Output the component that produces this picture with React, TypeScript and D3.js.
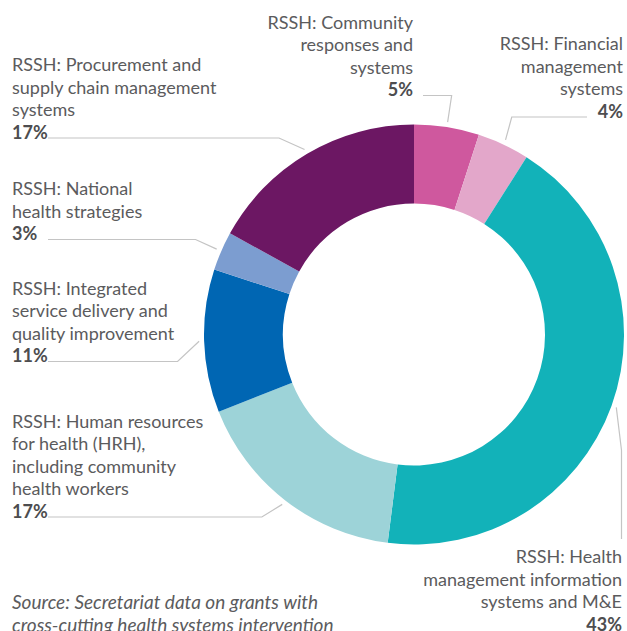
import React from "react";
import * as d3 from "d3";

const categories = [
  "RSSH: Community responses and systems",
  "RSSH: Financial management systems",
  "RSSH: Health management information systems and M&E",
  "RSSH: Human resources for health (HRH), including community health workers",
  "RSSH: Integrated service delivery and quality improvement",
  "RSSH: National health strategies",
  "RSSH: Procurement and supply chain management systems",
];
const values = [5, 4, 43, 17, 11, 3, 17];
const labelLines = [
  ["RSSH: Community", "responses and", "systems"],
  ["RSSH: Financial", "management", "systems"],
  ["RSSH: Health", "management information", "systems and M&E"],
  ["RSSH: Human resources", "for health (HRH),", "including community", "health workers"],
  ["RSSH: Integrated", "service delivery and", "quality improvement"],
  ["RSSH: National", "health strategies"],
  ["RSSH: Procurement and", "supply chain management", "systems"],
];
const colors = ["#cf589e", "#e3a7ca", "#12b2b9", "#9dd3d8", "#0066b3", "#7c9dd0", "#6c1763"];
const sourceLines = [
  "Source: Secretariat data on grants with",
  "cross-cutting health systems intervention",
];

// layout (positions only)
const W = 627, H = 631;
const CX = 414, CY = 334.5, R_OUT = 210, R_IN = 131;
const LH = 22.5;
type LabelLayout = { x: number; y: number; anchor: "start" | "end"; elbow: "h" | "v"; lineStart: number };
const layout: LabelLayout[] = [
  { x: 413, y: 28.5, anchor: "end", elbow: "h", lineStart: 423 },
  { x: 623, y: 50, anchor: "end", elbow: "h", lineStart: 587 },
  { x: 622, y: 563, anchor: "end", elbow: "v", lineStart: 539 },
  { x: 12, y: 427.5, anchor: "start", elbow: "h", lineStart: 48 },
  { x: 12, y: 294.5, anchor: "start", elbow: "h", lineStart: 48 },
  { x: 12, y: 195, anchor: "start", elbow: "h", lineStart: 48 },
  { x: 12, y: 71, anchor: "start", elbow: "h", lineStart: 48 },
];
const ELBOW_R = 238;
const LEADER_R = 215;

export default function App() {
  const pie = d3.pie<number>().value((d) => d).sort(null)(values);
  const arc = d3.arc<d3.PieArcDatum<number>>().innerRadius(R_IN).outerRadius(R_OUT);
  const pointArc = d3.arc<d3.PieArcDatum<number>>().innerRadius(LEADER_R).outerRadius(LEADER_R);
  const font = "Lato, 'Open Sans', sans-serif";

  return (
    <svg width={W} height={H} style={{ position: "absolute", left: 0, top: 0 }} fontFamily={font}>
      <g transform={`translate(${CX},${CY})`}>
        {pie.map((p, i) => (
          <path key={categories[i]} d={arc(p) || ""} fill={colors[i]} />
        ))}
      </g>
      {pie.map((p, i) => {
        const L = layout[i];
        const [px, py] = pointArc.centroid(p);
        const ax = CX + px, ay = CY + py;
        const lines = labelLines[i];
        const pctY = L.y + LH * lines.length;
        let pts: [number, number][];
        if (L.elbow === "h") {
          const dy = pctY - CY;
          const dx = Math.sqrt(Math.max(0, ELBOW_R * ELBOW_R - dy * dy));
          let ex = L.anchor === "start" ? CX - dx : CX + dx;
          if (i === 0) ex = ax + 4;
          pts = [[L.lineStart, pctY - 0.5], [ex, pctY - 0.5], [ax, ay]];
        } else {
          const ex = L.x;
          const dxr = ex - CX;
          const ey = CY + Math.sqrt(Math.max(0, ELBOW_R * ELBOW_R - dxr * dxr));
          pts = [[ex - 0.5, L.lineStart], [ex - 0.5, ey], [ax, ay]];
        }
        return (
          <g key={"lab" + i}>
            <path d={d3.line()(pts) || ""} fill="none" stroke="#c4c4c4" strokeWidth={1.2} />
            <text x={L.x} textAnchor={L.anchor} fontSize={18} fill="#5b5b5d">
              {lines.map((t, k) => (
                <tspan key={k} x={L.x} y={L.y + LH * k}>{t}</tspan>
              ))}
              <tspan x={L.x} y={pctY} fontWeight={700} fill="#4d4d4f">{values[i]}%</tspan>
            </text>
          </g>
        );
      })}
      <text fontSize={19} fill="#5b5b5d" fontStyle="italic">
        {sourceLines.map((t, k) => (
          <tspan key={k} x={12} y={609 + LH * k}>{t}</tspan>
        ))}
      </text>
    </svg>
  );
}
